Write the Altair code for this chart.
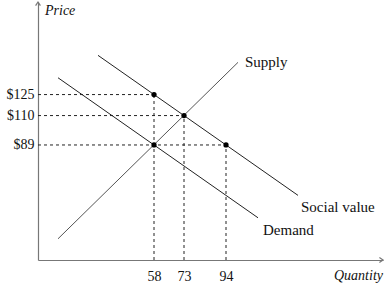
import altair as alt
import pandas as pd

# Data
supply_q = [10, 100]
supply_p = [22, 148]
demand_q = [10, 110]
demand_p = [137, 37]
social_q = [30, 130]
social_p = [153, 53]

dot_q = [58, 73, 58, 94]
dot_p = [125, 110, 89, 89]

price_ticks = [125, 110, 89]
qty_ticks = [58, 73, 94]

Q_MIN, Q_MAX = 0, 172.5
P_MIN, P_MAX = 6.86, 191.1

FONT = "Liberation Serif"
LINE = "#222222"
AXIS = "#777777"

xs = alt.Scale(domain=[Q_MIN, Q_MAX], nice=False, zero=False)
ys = alt.Scale(domain=[P_MIN, P_MAX], nice=False, zero=False)

lines = pd.DataFrame({
    "q": supply_q + demand_q + social_q,
    "p": supply_p + demand_p + social_p,
    "s": ["Supply"] * 2 + ["Demand"] * 2 + ["Social value"] * 2,
})

base_x = alt.X("q:Q", scale=xs, axis=alt.Axis(
    values=qty_ticks, title=None, grid=False, ticks=False,
    domainColor=AXIS, domainWidth=1.2, labelFont=FONT, labelFontSize=14,
    labelColor="#111", labelPadding=9, labelFlush=False))
base_y = alt.Y("p:Q", scale=ys, axis=alt.Axis(
    values=price_ticks, title=None, grid=False, ticks=False,
    domainColor=AXIS, domainWidth=1.2, labelFont=FONT, labelFontSize=14,
    labelColor="#111", labelPadding=4, labelExpr="'$' + datum.value",
    labelFlush=False))

line_layer = alt.Chart(lines).mark_line(strokeWidth=1).encode(
    x=base_x, y=base_y, detail="s:N",
    color=alt.Color("s:N", scale=alt.Scale(
        domain=["Supply", "Demand", "Social value"],
        range=["#555555", LINE, LINE]), legend=None),
)

hdash = pd.DataFrame({"p": price_ticks, "q0": [Q_MIN] * 3, "q1": [58, 73, 94]})
vdash = pd.DataFrame({"q": qty_ticks, "p0": [P_MIN] * 3, "p1": [125, 110, 89]})

h_layer = alt.Chart(hdash).mark_rule(strokeDash=[3, 3], color=LINE, strokeWidth=1).encode(
    x=alt.X("q0:Q", scale=xs), x2="q1:Q", y=alt.Y("p:Q", scale=ys))
v_layer = alt.Chart(vdash).mark_rule(strokeDash=[3, 3], color=LINE, strokeWidth=1).encode(
    x=alt.X("q:Q", scale=xs), y=alt.Y("p0:Q", scale=ys), y2="p1:Q")

dots = pd.DataFrame({"q": dot_q, "p": dot_p})
dot_layer = alt.Chart(dots).mark_circle(size=28, color="black", opacity=1).encode(
    x=alt.X("q:Q", scale=xs), y=alt.Y("p:Q", scale=ys))

arrows = pd.DataFrame({"q": [Q_MIN, Q_MAX], "p": [P_MAX, P_MIN], "a": [0, 90]})
arrow_layer = alt.Chart(arrows).mark_point(
    shape="M-0.6,0.9 L0,0 L0.6,0.9", filled=False, size=64,
    color=AXIS, strokeWidth=1.2, opacity=1).encode(
    x=alt.X("q:Q", scale=xs), y=alt.Y("p:Q", scale=ys),
    angle=alt.Angle("a:Q", scale=None))

labels = pd.DataFrame({
    "q": [100, 130, 110],
    "p": [148, 53, 37],
    "t": ["Supply", "Social value", "Demand"],
    "dx": [7, 3, 5],
    "dy": [0, 12, 12],
})
label_layers = []
for _, r in labels.iterrows():
    label_layers.append(alt.Chart(pd.DataFrame([r])).mark_text(
        font=FONT, fontSize=15, align="left", baseline="middle", color="#111",
        dx=float(r.dx), dy=float(r.dy)).encode(
        x=alt.X("q:Q", scale=xs), y=alt.Y("p:Q", scale=ys), text="t:N"))

titles = pd.DataFrame({"q": [Q_MIN], "p": [P_MAX], "t": ["Price"]})
price_title = alt.Chart(titles).mark_text(
    font=FONT, fontSize=14, fontStyle="italic", align="left", baseline="middle",
    dx=7, dy=9, color="#111").encode(
    x=alt.X("q:Q", scale=xs), y=alt.Y("p:Q", scale=ys), text="t:N")
qt = pd.DataFrame({"q": [Q_MAX], "p": [P_MIN], "t": ["Quantity"]})
qty_title = alt.Chart(qt).mark_text(
    font=FONT, fontSize=14, fontStyle="italic", align="right", baseline="middle",
    dx=0, dy=16, color="#111").encode(
    x=alt.X("q:Q", scale=xs), y=alt.Y("p:Q", scale=ys), text="t:N")

chart = alt.layer(
    h_layer, v_layer, line_layer, dot_layer, arrow_layer,
    *label_layers, price_title, qty_title,
).properties(
    width=345, height=258,
    autosize=alt.AutoSizeParams(type="none"),
    padding={"left": 38, "top": 2, "right": 2, "bottom": 39},
    background="white",
).configure_view(stroke=None)

chart.save("out.html", embed_options={"renderer": "svg", "actions": False})
